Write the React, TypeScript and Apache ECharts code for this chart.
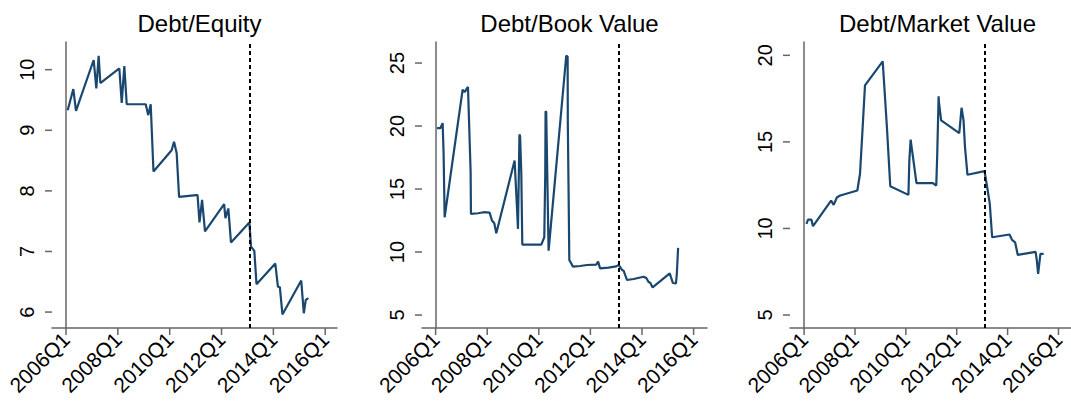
import React, { useEffect, useRef } from "react";
import * as echarts from "echarts";

// Time is measured in quarters since 2006Q1 (0 = 2006Q1)
const titles = ["Debt/Equity", "Debt/Book Value", "Debt/Market Value"];
const xTickValues = [0, 8, 16, 24, 32, 40];
const eventQuarter = 28.35;

const equityT = [0.26, 1.13, 1.54, 4.27, 4.68, 5.04, 5.3, 8.23, 8.6, 9.0, 9.37, 12.3, 12.7, 13.07, 13.5, 16.3, 16.67, 17.08, 17.45, 20.1, 20.3, 20.6, 21.0, 21.45, 24.4, 24.6, 25.05, 25.46, 28.3, 28.55, 29.06, 29.4, 32.3, 32.7, 33.0, 33.4, 36.3, 36.7, 37.0, 37.4];
const equityV = [9.33, 9.68, 9.32, 10.16, 9.69, 10.23, 9.78, 10.02, 9.45, 10.06, 9.43, 9.43, 9.25, 9.43, 8.32, 8.67, 8.81, 8.62, 7.9, 7.93, 7.93, 7.48, 7.85, 7.33, 7.78, 7.55, 7.71, 7.15, 7.48, 7.08, 7.01, 6.46, 6.8, 6.42, 6.41, 5.96, 6.52, 5.98, 6.2, 6.23];
const equityTicks = [6, 7, 8, 9, 10];

const bookT = [0.22, 0.73, 1.09, 1.24, 1.4, 4.19, 4.5, 5.02, 5.22, 5.43, 5.48, 6.57, 7.44, 8.37, 8.74, 9.1, 9.41, 12.25, 12.6, 12.77, 13.0, 13.1, 13.29, 13.44, 16.39, 16.85, 17.0, 17.05, 17.15, 17.52, 20.26, 20.47, 20.5, 20.62, 20.73, 21.3, 22.4, 23.47, 24.9, 25.2, 25.5, 26.8, 28.0, 28.4, 28.9, 29.15, 29.67, 30.7, 32.25, 32.67, 33.0, 33.3, 33.65, 36.3, 36.5, 36.8, 37.27, 37.4, 37.6];
const bookV = [19.83, 19.83, 20.23, 17.8, 12.76, 22.89, 22.7, 23.1, 19.8, 16.34, 13.03, 13.08, 13.16, 13.13, 12.5, 12.28, 11.49, 17.27, 13.69, 11.84, 19.33, 19.2, 16.2, 10.59, 10.59, 11.17, 16.2, 21.18, 21.1, 10.11, 25.6, 25.5, 20.18, 14.75, 9.37, 8.84, 8.89, 8.97, 9.0, 9.24, 8.7, 8.76, 8.86, 8.97, 8.58, 8.52, 7.78, 7.86, 8.04, 7.94, 7.64, 7.54, 7.19, 8.31, 7.99, 7.54, 7.51, 8.26, 10.33];
const bookTicks = [5, 10, 15, 20, 25];

const marketT = [0.37, 0.62, 1.14, 1.4, 4.24, 4.65, 5.17, 5.69, 8.37, 8.79, 9.15, 9.57, 12.36, 13.02, 13.55, 16.4, 16.55, 16.75, 17.67, 20.26, 20.78, 20.93, 21.15, 21.2, 21.55, 24.4, 24.76, 25.07, 25.3, 25.69, 28.37, 28.79, 29.2, 29.57, 32.3, 32.7, 33.18, 33.6, 36.4, 36.6, 36.8, 37.16, 37.67];
const marketV = [10.27, 10.51, 10.51, 10.13, 11.61, 11.36, 11.8, 11.9, 12.19, 13.16, 15.47, 18.26, 19.65, 15.85, 12.44, 11.94, 13.93, 15.13, 12.62, 12.62, 12.48, 14.22, 17.63, 17.3, 16.24, 15.51, 16.97, 16.24, 14.7, 13.1, 13.31, 12.38, 11.42, 9.49, 9.65, 9.34, 9.2, 8.47, 8.65, 8.14, 7.37, 8.53, 8.53];
const marketTicks = [5, 10, 15, 20];

const panels = [
  { t: equityT, v: equityV, ticks: equityTicks, left: 52, xMin: -2.16, xMax: 41.82, yMin: 5.737, yMax: 10.457 },
  { t: bookT, v: bookV, ticks: bookTicks, left: 422, xMin: -2.11, xMax: 42.08, yMin: 3.97, yMax: 26.67 },
  { t: marketT, v: marketV, ticks: marketTicks, left: 790, xMin: -2.22, xMax: 41.97, yMin: 4.25, yMax: 20.77 },
];

const LINE = "#1a476f";
const AXIS = "#666666";
const FONT = "'Liberation Sans', Arial, sans-serif";
const TICK_LEN = 7;

export default function App() {
  const ref = useRef<HTMLDivElement>(null);
  useEffect(() => {
    if (!ref.current) return;
    const chart = echarts.init(ref.current, null, { renderer: "svg" });
    const W = 285;
    const H = 286;
    const option: any = {
      animation: false,
      backgroundColor: "#ffffff",
      title: panels.map((p, i) => ({
        text: titles[i],
        left: p.left + W / 2,
        textAlign: "center",
        top: 6,
        textStyle: { fontFamily: FONT, fontSize: 24, fontWeight: "normal", color: "#000" },
      })),
      grid: panels.map((p) => ({ left: p.left, top: 42, width: W, height: H })),
      xAxis: panels.map((p, i) => ({
        type: "value",
        gridIndex: i,
        min: p.xMin,
        max: p.xMax,
        axisLine: { show: true, lineStyle: { color: AXIS, width: 1.5 } },
        axisTick: { show: false },
        splitLine: { show: false },
        axisLabel: {
          customValues: xTickValues,
          rotate: 45,
          margin: 8,
          fontFamily: FONT,
          fontSize: 21,
          color: "#000",
          formatter: (val: number) => `${2006 + Math.round(val) / 4}Q1`,
        },
      })),
      yAxis: panels.map((p, i) => ({
        type: "value",
        gridIndex: i,
        min: p.yMin,
        max: p.yMax,
        axisLine: { show: true, lineStyle: { color: AXIS, width: 1.5 } },
        axisTick: { show: false },
        splitLine: { show: false },
        axisLabel: {
          customValues: p.ticks,
          rotate: 90,
          margin: 15,
          fontFamily: FONT,
          fontSize: 20,
          color: "#000",
        },
      })),
      series: panels.map((p, i) => ({
        type: "line",
        xAxisIndex: i,
        yAxisIndex: i,
        data: p.t.map((t, k) => [t, p.v[k]]),
        showSymbol: false,
        symbol: "none",
        lineStyle: { color: LINE, width: 2.2 },
        markLine: {
          silent: true,
          symbol: "none",
          label: { show: false },
          lineStyle: { color: "#000", width: 2, type: [4, 3] },
          data: [{ xAxis: eventQuarter }],
        },
      })),
    };
    chart.setOption(option);

    // Tick marks placed through the axes' own scales
    const ticks: any[] = [];
    panels.forEach((p, i) => {
      const finder = { xAxisIndex: i, yAxisIndex: i };
      xTickValues.forEach((q) => {
        const pt = chart.convertToPixel(finder, [q, p.yMin]) as number[];
        ticks.push({
          type: "line",
          silent: true,
          shape: { x1: pt[0], y1: pt[1], x2: pt[0], y2: pt[1] + TICK_LEN },
          style: { stroke: AXIS, lineWidth: 1.5 },
        });
      });
      p.ticks.forEach((v) => {
        const pt = chart.convertToPixel(finder, [p.xMin, v]) as number[];
        ticks.push({
          type: "line",
          silent: true,
          shape: { x1: pt[0] - TICK_LEN, y1: pt[1], x2: pt[0], y2: pt[1] },
          style: { stroke: AXIS, lineWidth: 1.5 },
        });
      });
    });
    chart.setOption({ graphic: ticks });
    return () => chart.dispose();
  }, []);
  return (
    <div
      ref={ref}
      style={{ position: "fixed", left: 0, top: 0, width: 1071, height: 401, background: "#fff" }}
    />
  );
}
